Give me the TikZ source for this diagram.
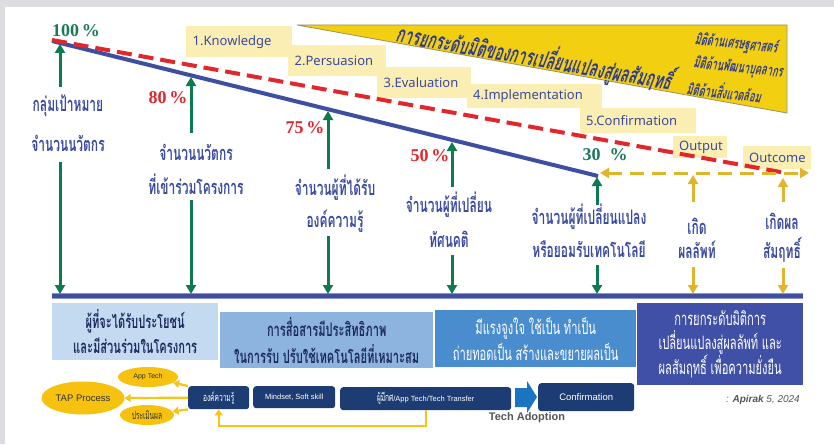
\documentclass[tikz,border=0pt]{standalone}
\usepackage{fontspec}
\setmainfont{Liberation Sans}
\newfontfamily\thaic[Script=Thai,FakeStretch=0.6]{Loma}
\newfontfamily\thaisl[Script=Thai,FakeStretch=0.6,FakeSlant=0.2]{Loma}
\newfontfamily\stagefont{Noto Sans}
\newfontfamily\pctfont{Liberation Serif}
\usetikzlibrary{arrows.meta,shapes.geometric,calc}

\definecolor{pagegray}{HTML}{DCDCE1}
\definecolor{lineblue}{HTML}{3E4FA2}
\definecolor{dashred}{HTML}{E1262C}
\definecolor{arrgreen}{HTML}{0E7A50}
\definecolor{arrgold}{HTML}{E1B52B}
\definecolor{linkgold}{HTML}{F5C518}
\definecolor{paleyel}{HTML}{FBEEB3}
\definecolor{txtblue}{HTML}{3A4A9F}
\definecolor{banner}{HTML}{F2CF10}
\definecolor{bannerrim}{HTML}{9C9066}
\definecolor{bannertxt}{HTML}{2E3A8E}
\definecolor{box1}{HTML}{C3DAF0}
\definecolor{box2}{HTML}{8CB4DF}
\definecolor{box3}{HTML}{4A8DCF}
\definecolor{box4}{HTML}{3F50A6}
\definecolor{navybox}{HTML}{1D3C73}
\definecolor{tapgold}{HTML}{F6C20F}
\definecolor{blockblue}{HTML}{1A74C0}
\definecolor{darktxt}{HTML}{1F2B5E}
\definecolor{pctgreen}{HTML}{1B7A55}
\definecolor{notegray}{HTML}{555555}

\begin{document}
\begin{tikzpicture}[x=1pt,y=-1pt,
  trend/.style={draw=lineblue,line width=4pt},
  goal/.style={draw=dashred,line width=4pt,dash pattern=on 15pt off 7pt},
  garrow/.style={draw=arrgreen,line width=3pt,-{Triangle[width=10pt,length=9pt]}},
  yarrow/.style={draw=arrgold,line width=3pt,-{Triangle[width=10pt,length=9pt]}},
  lbl/.style={font=\thaic\bfseries\fontsize{20}{20}\selectfont,text=txtblue,inner sep=0},
  pct/.style={font=\pctfont\bfseries\fontsize{18}{18}\selectfont,inner sep=0},
  stagebox/.style={fill=paleyel,anchor=north west,align=left,inner ysep=0pt,inner xsep=6.5pt,
    font=\stagefont\fontsize{13}{13}\selectfont,text=txtblue},
  dimtxt/.style={font=\thaisl\bfseries\fontsize{15.5}{15.5}\selectfont,text=bannertxt,inner sep=0,rotate=-6},
  infobox/.style={inner sep=0,align=center,anchor=north west},
  navy/.style={fill=navybox,rounded corners=3pt,text=white,inner sep=0,anchor=north west},
  tapnode/.style={ellipse,fill=tapgold,inner sep=0,text=black!80},
  ylink/.style={draw=linkgold,line width=2.2pt,-{Triangle[width=8pt,length=6pt]}},
]
\useasboundingbox (0,0) rectangle (834,444);
\fill[pagegray] (0,0) rectangle (834,444);
\fill[white] (5,7) rectangle (834,444);

% ---- banner: dimensions of change ----
\coordinate (bn1) at (297,25);
\coordinate (bn2) at (787,25);
\coordinate (bn3) at (787,113);
\filldraw[fill=banner,draw=bannerrim,line width=0.8pt] (bn1) -- (bn2) -- (bn3) -- cycle;
\node[font=\thaisl\bfseries\fontsize{23}{23}\selectfont,text=bannertxt,inner sep=0,rotate=-10]
  (bannertitle) at (534,57) {การยกระดับมิติของการเปลี่ยนแปลงสู่ผลสัมฤทธิ์};
\node[dimtxt] (dim1) at (736,44) {มิติด้านเศรษฐศาสตร์};
\node[dimtxt] (dim2) at (738,68) {มิติด้านพัฒนาบุคลากร};
\node[dimtxt] (dim3) at (724,91) {มิติด้านสิ่งแวดล้อม};

% ---- adoption stages ----
\node[stagebox,minimum height=31,text width=93] (st1) at (186,26) {1.Knowledge};
\node[stagebox,minimum height=31,text width=85] (st2) at (288,45) {2.Persuasion};
\node[stagebox,minimum height=31,text width=81] (st3) at (377,67) {3.Evaluation};
\node[stagebox,minimum height=24,text width=123,inner xsep=6pt] (st4) at (467,84) {4.Implementation};
\node[stagebox,minimum height=25,text width=104,inner xsep=6pt] (st5) at (580,108) {5.Confirmation};
\node[stagebox,minimum height=22,text width=42,inner xsep=6pt] (st6) at (673,136) {Output};
\node[stagebox,minimum height=23,text width=56,inner xsep=6pt] (st7) at (743,146) {Outcome};

% ---- trend lines ----
\coordinate (top) at (52,41);
\coordinate (low) at (598,176);
\coordinate (rtop) at (52,40);
\coordinate (rend) at (786,173);
\draw[trend] (top) -- (low);
\draw[goal] (rtop) -- (rend);

% ---- baseline ----
\coordinate (bl) at (52,296);
\coordinate (br) at (803,296);
\draw[draw=lineblue!60,line width=5.5pt] (bl) -- (br);
\draw[draw=lineblue,line width=4pt] (bl) -- (br);

% ---- percentages ----
\node[pct,text=pctgreen] (p100) at (76,31) {100\,\%};
\node[pct,text=dashred] (p80) at (168,98) {80\,\%};
\node[pct,text=dashred] (p75) at (305,128) {75\,\%};
\node[pct,text=dashred] (p50) at (430,156) {50\,\%};
\node[pct,text=pctgreen] (p30) at (605,155) {30\ \ \%};

% ---- column labels ----
\node[lbl] (c0a) at (68,106) {กลุ่มเป้าหมาย};
\node[lbl] (c0b) at (68,143) {จำนวนนวัตกร};
\node[lbl] (c1a) at (196,152) {จำนวนนวัตกร};
\node[lbl] (c1b) at (196,184) {ที่เข้าร่วมโครงการ};
\node[lbl] (c2a) at (335,188) {จำนวนผู้ที่ได้รับ};
\node[lbl] (c2b) at (335,221) {องค์ความรู้};
\node[lbl] (c3a) at (449,205) {จำนวนผู้ที่เปลี่ยน};
\node[lbl] (c3b) at (449,239) {ทัศนคติ};
\node[lbl] (c4a) at (589,217) {จำนวนผู้ที่เปลี่ยนแปลง};
\node[lbl] (c4b) at (589,249) {หรือยอมรับเทคโนโลยี};
\node[lbl] (c5a) at (697,226) {เกิด};
\node[lbl] (c5b) at (697,250) {ผลลัพท์};
\node[lbl] (c6a) at (782,221) {เกิดผล};
\node[lbl] (c6b) at (782,250) {สัมฤทธิ์};

% ---- column arrow end points ----
\coordinate (u0t) at (60,87);  \coordinate (u0h) at (60,44);
\coordinate (d0t) at (60,162); \coordinate (d0h) at (60,294);
\coordinate (u1t) at (191,133); \coordinate (u1h) at (191,77);
\coordinate (d1t) at (191,200); \coordinate (d1h) at (191,294);
\coordinate (u2t) at (328,169); \coordinate (u2h) at (328,111);
\coordinate (d2t) at (328,236); \coordinate (d2h) at (328,294);
\coordinate (u3t) at (452,187); \coordinate (u3h) at (452,142);
\coordinate (d3t) at (452,255); \coordinate (d3h) at (452,294);
\coordinate (u4t) at (597,205); \coordinate (u4h) at (597,177);
\coordinate (d4t) at (597,265); \coordinate (d4h) at (597,294);
\coordinate (u5t) at (693,202); \coordinate (u5h) at (693,175);
\coordinate (d5t) at (693,267); \coordinate (d5h) at (693,294);
\coordinate (u6t) at (783,202); \coordinate (u6h) at (783,178);
\coordinate (d6t) at (783,268); \coordinate (d6h) at (783,294);

\foreach \i in {0,...,4} {
  \draw[garrow] (u\i t) -- (u\i h);
  \draw[garrow] (d\i t) -- (d\i h);
}
\foreach \i in {5,6} {
  \draw[yarrow] (u\i t) -- (u\i h);
  \draw[yarrow] (d\i t) -- (d\i h);
}

% ---- output / outcome span ----
\coordinate (sp0) at (600,173);
\coordinate (sp1) at (809,173);
\draw[draw=arrgold,line width=3pt,dash pattern=on 14pt off 8pt,
  {Triangle[width=10pt,length=9pt]}-{Triangle[width=10pt,length=9pt]}] (sp0) -- (sp1);

% ---- result boxes ----
\node[infobox,fill=box1,minimum width=166,minimum height=57,text=darktxt,
  font=\thaic\bfseries\fontsize{18.5}{25}\selectfont] (b1) at (52,303)
  {ผู้ที่จะได้รับประโยชน์\\และมีส่วนร่วมในโครงการ};
\node[infobox,fill=box2,minimum width=213,minimum height=56,text=darktxt,
  font=\thaic\bfseries\fontsize{18.5}{27}\selectfont] (b2) at (220,312)
  {การสื่อสารมีประสิทธิภาพ\\ในการรับ ปรับใช้เทคโนโลยีที่เหมาะสม};
\node[infobox,fill=box3,minimum width=201,minimum height=57,text=white,
  font=\thaic\fontsize{18.5}{26}\selectfont] (b3) at (435,310)
  {มีแรงจูงใจ ใช้เป็น ทำเป็น\\ถ่ายทอดเป็น สร้างและขยายผลเป็น};
\node[infobox,fill=box4,minimum width=166,minimum height=82,text=white,
  font=\thaic\fontsize{18.5}{24}\selectfont] (b4) at (637,303)
  {การยกระดับมิติการ\\เปลี่ยนแปลงสู่ผลลัพท์ และ\\ผลสัมฤทธิ์ เพื่อความยั่งยืน};

% ---- TAP process row ----
\node[tapnode,minimum width=83,minimum height=33,font=\fontsize{9.5}{9.5}\selectfont] (tap) at (83,398) {TAP Process};
\node[tapnode,minimum width=60,minimum height=20,font=\fontsize{7}{7}\selectfont] (apptech) at (148,377) {App Tech};
\node[tapnode,minimum width=54,minimum height=20,font=\thaic\fontsize{11}{11}\selectfont] (evalnode) at (147,415) {ประเมินผล};

\node[navy,minimum width=61,minimum height=23,font=\thaic\fontsize{11}{11}\selectfont] (know) at (188,386) {องค์ความรู้};
\node[navy,minimum width=82,minimum height=22,font=\fontsize{7.5}{7.5}\selectfont] (mind) at (253,386) {Mindset, Soft skill};
\node[navy,minimum width=171,minimum height=23,font=\fontsize{7.5}{7.5}\selectfont] (transfer) at (340,387)
  {{\thaic\fontsize{11}{11}\selectfont ผู้มีกศ}/App Tech/Tech Transfer};
\node[navy,minimum width=96,minimum height=28,font=\fontsize{9.5}{9.5}\selectfont] (confirm) at (538,383) {Confirmation};

\fill[blockblue] (515,388) -- (527,388) -- (527,381) -- (537,397) -- (527,413) -- (527,407) -- (515,407) -- cycle;
\node[font=\bfseries\fontsize{11}{11}\selectfont,text=notegray,inner sep=0] (adopt) at (527,418) {Tech Adoption};

\draw[ylink] (know.west) -- (tap.east);
\draw[ylink] (know.north west) -- (apptech);
\draw[ylink] (know.south west) -- (evalnode);
\draw[draw=linkgold,line width=2pt,-{Triangle[width=8pt,length=6pt]}]
  (transfer.south) -- ++(0,16) -| (know.south);

\node[anchor=east,inner sep=0,text=notegray,font=\itshape\fontsize{10}{10}\selectfont] (credit) at (800,400)
  {: \textbf{Apirak} 5, 2024};
\end{tikzpicture}
\end{document}
